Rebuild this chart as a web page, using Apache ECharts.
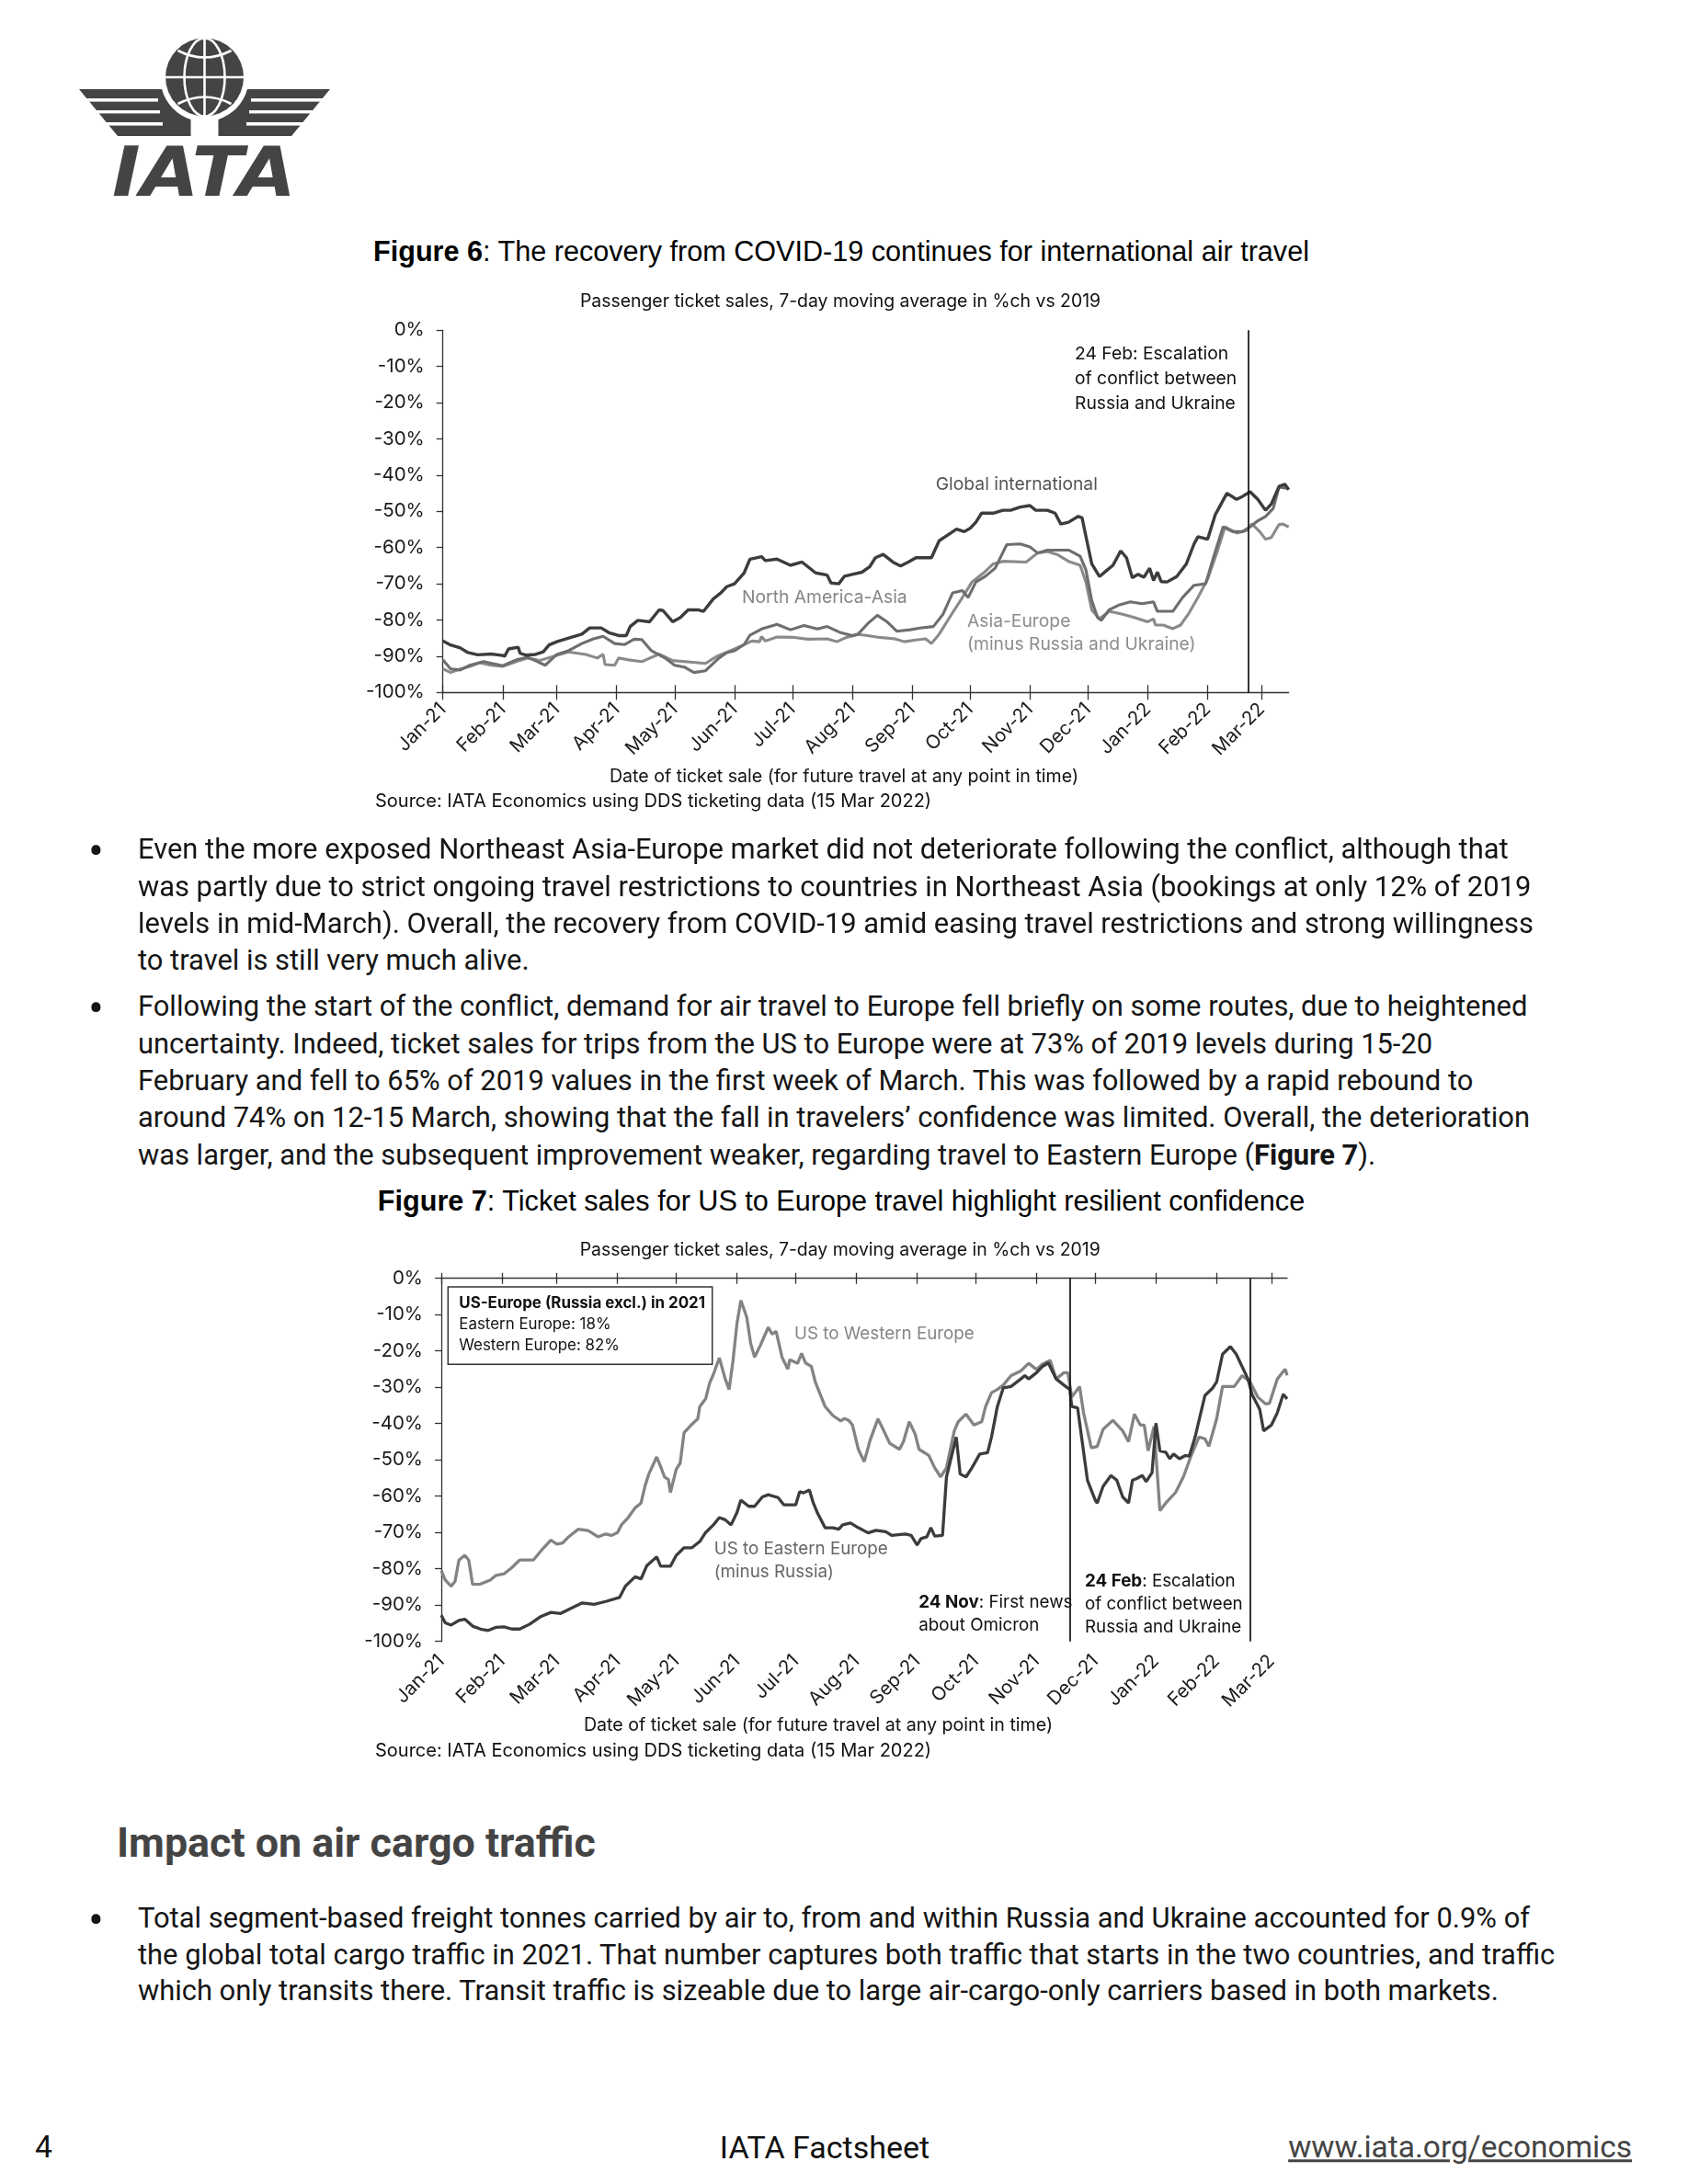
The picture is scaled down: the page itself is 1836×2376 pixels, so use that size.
<!DOCTYPE html>
<html>
<head>
<meta charset="utf-8">
<script src="https://cdn.jsdelivr.net/npm/echarts@6/dist/echarts.min.js"></script>
<style>
  html,body{margin:0;padding:0;background:#fff;}
  body{width:1836px;height:2376px;position:relative;overflow:hidden;color:#111;font-family:Roboto,"Noto Sans",sans-serif;}
  .t{position:absolute;white-space:nowrap;transform:translateY(-50%);line-height:1;}
  .body{font-size:30.9px;left:150px;color:#151515;}
  .bul{font-size:50px;left:96px;color:#151515;}
  .title{font-family:"Liberation Sans",Arial,sans-serif;font-size:30.6px;left:0;width:1830px;text-align:center;color:#000;}
  .chart{position:absolute;left:0;width:1836px;}
</style>
</head>
<body>

<svg style="position:absolute;left:0;top:0" width="400" height="230" viewBox="0 0 400 230">
  <g fill="#444">
    <path d="M86,97 L176,97 A48.3,48.3 0 0 0 207.5,130 L207.5,148 L128,148 Z"/>
    <path transform="translate(445,0) scale(-1,1)" d="M86,97 L176,97 A48.3,48.3 0 0 0 207.5,130 L207.5,148 L128,148 Z"/>
  </g>
  <g fill="#fff">
    <rect x="80" y="107" width="92" height="3.6"/>
    <rect x="80" y="120" width="94" height="3.4"/>
    <rect x="80" y="133" width="97" height="3.6"/>
    <rect x="273" y="107" width="92" height="3.6"/>
    <rect x="271" y="120" width="94" height="3.4"/>
    <rect x="268" y="133" width="97" height="3.6"/>
  </g>
  <circle cx="222.5" cy="84" r="42.5" fill="#444"/>
  <g stroke="#fff" stroke-width="2.6" fill="none">
    <line x1="222.5" y1="41.5" x2="222.5" y2="126.5"/>
    <ellipse cx="222.5" cy="84" rx="22" ry="42.5"/>
    <line x1="180" y1="84" x2="265" y2="84"/>
    <path d="M193.5,55 Q222.5,70 251.5,55"/>
    <path d="M193.5,113 Q222.5,98 251.5,113"/>
  </g>
  <text x="122" y="212.7" font-family="DejaVu Sans" font-weight="bold" font-style="italic" font-size="74" textLength="200" lengthAdjust="spacingAndGlyphs" fill="#444">IATA</text>
</svg>

<div class="t title" style="top:273px"><b>Figure 6</b>: The recovery from COVID-19 continues for international air travel</div>
<div id="c1" class="chart" style="top:290px;height:620px"></div>

<div class="t bul" style="top:926px">•</div>
<div class="t body" style="top:924px">Even the more exposed Northeast Asia-Europe market did not deteriorate following the conflict, although that</div>
<div class="t body" style="top:965px">was partly due to strict ongoing travel restrictions to countries in Northeast Asia (bookings at only 12% of 2019</div>
<div class="t body" style="top:1005px">levels in mid-March). Overall, the recovery from COVID-19 amid easing travel restrictions and strong willingness</div>
<div class="t body" style="top:1045px">to travel is still very much alive.</div>

<div class="t bul" style="top:1097px">•</div>
<div class="t body" style="top:1095px">Following the start of the conflict, demand for air travel to Europe fell briefly on some routes, due to heightened</div>
<div class="t body" style="top:1136px">uncertainty. Indeed, ticket sales for trips from the US to Europe were at 73% of 2019 levels during 15-20</div>
<div class="t body" style="top:1176px">February and fell to 65% of 2019 values in the first week of March. This was followed by a rapid rebound to</div>
<div class="t body" style="top:1216px">around 74% on 12-15 March, showing that the fall in travelers’ confidence was limited. Overall, the deterioration</div>
<div class="t body" style="top:1257px">was larger, and the subsequent improvement weaker, regarding travel to Eastern Europe (<b>Figure 7</b>).</div>

<div class="t title" style="top:1306px"><b>Figure 7</b>: Ticket sales for US to Europe travel highlight resilient confidence</div>
<div id="c2" class="chart" style="top:1320px;height:610px"></div>

<div class="t" style="top:2005px;left:127px;font-size:44.8px;font-weight:bold;color:#444;">Impact on air cargo traffic</div>

<div class="t bul" style="top:2089px">•</div>
<div class="t body" style="top:2087px">Total segment-based freight tonnes carried by air to, from and within Russia and Ukraine accounted for 0.9% of</div>
<div class="t body" style="top:2127px">the global total cargo traffic in 2021. That number captures both traffic that starts in the two countries, and traffic</div>
<div class="t body" style="top:2166px">which only transits there. Transit traffic is sizeable due to large air-cargo-only carriers based in both markets.</div>

<div class="t" style="top:2336px;left:38px;font-size:33.5px;">4</div>
<div class="t" style="top:2336px;left:0;width:1794px;text-align:center;font-size:34px;">IATA Factsheet</div>
<div class="t" style="top:2336px;right:61px;font-size:33.5px;color:#444;text-decoration:underline;">www.iata.org/economics</div>

<script>
// ---------- shared axis data ----------
const monthTicks = ['2021-01-01','2021-02-01','2021-03-01','2021-04-01','2021-05-01','2021-06-01','2021-07-01','2021-08-01','2021-09-01','2021-10-01','2021-11-01','2021-12-01','2022-01-01','2022-02-01','2022-03-01'];
const monthLabels = ['Jan-21','Feb-21','Mar-21','Apr-21','May-21','Jun-21','Jul-21','Aug-21','Sep-21','Oct-21','Nov-21','Dec-21','Jan-22','Feb-22','Mar-22'];

// ---------- Figure 6 data (% change vs 2019) ----------
const fig6Range = ['2021-01-01','2022-03-15'];
const fig6EventLine = '2022-02-22';
const globalIntl = [['2021-01-01',-85.8],['2021-01-05',-86.9],['2021-01-10',-87.7],['2021-01-14',-89.0],['2021-01-19',-89.6],['2021-01-26',-89.4],['2021-02-01',-89.8],['2021-02-02',-90.0],['2021-02-04',-88.0],['2021-02-09',-87.5],['2021-02-10',-89.2],['2021-02-13',-89.7],['2021-02-18',-89.5],['2021-02-22',-88.8],['2021-02-25',-86.9],['2021-03-01',-86.0],['2021-03-06',-85.2],['2021-03-14',-83.9],['2021-03-18',-82.2],['2021-03-24',-82.2],['2021-03-28',-83.5],['2021-04-02',-84.3],['2021-04-06',-84.3],['2021-04-08',-81.8],['2021-04-12',-80.1],['2021-04-18',-80.5],['2021-04-23',-77.2],['2021-04-25',-77.4],['2021-04-30',-80.5],['2021-05-04',-79.3],['2021-05-08',-77.2],['2021-05-13',-77.2],['2021-05-16',-77.6],['2021-05-21',-74.2],['2021-05-25',-72.5],['2021-05-28',-70.8],['2021-06-01',-70.0],['2021-06-06',-67.0],['2021-06-09',-63.2],['2021-06-15',-62.5],['2021-06-17',-63.6],['2021-06-23',-63.2],['2021-06-30',-64.9],['2021-07-06',-64.0],['2021-07-13',-67.0],['2021-07-19',-67.6],['2021-07-21',-69.8],['2021-07-25',-70.0],['2021-07-28',-67.9],['2021-08-01',-67.4],['2021-08-06',-66.8],['2021-08-10',-65.3],['2021-08-13',-62.8],['2021-08-17',-61.9],['2021-08-22',-64.0],['2021-08-26',-65.1],['2021-08-30',-64.0],['2021-09-03',-62.8],['2021-09-11',-62.8],['2021-09-15',-58.1],['2021-09-21',-56.0],['2021-09-24',-54.9],['2021-09-28',-55.6],['2021-10-01',-54.7],['2021-10-04',-53.0],['2021-10-07',-50.5],['2021-10-13',-50.5],['2021-10-18',-49.7],['2021-10-22',-49.7],['2021-10-27',-48.8],['2021-11-01',-48.4],['2021-11-04',-49.7],['2021-11-10',-49.7],['2021-11-14',-50.5],['2021-11-17',-53.5],['2021-11-21',-53.0],['2021-11-26',-51.4],['2021-11-28',-51.8],['2021-11-30',-56.9],['2021-12-03',-64.5],['2021-12-07',-68.0],['2021-12-11',-66.2],['2021-12-14',-64.9],['2021-12-18',-60.9],['2021-12-21',-62.8],['2021-12-24',-68.3],['2021-12-27',-67.4],['2021-12-30',-68.2],['2022-01-02',-65.7],['2022-01-04',-69.1],['2022-01-06',-66.8],['2022-01-08',-69.4],['2022-01-11',-69.5],['2022-01-16',-68.0],['2022-01-21',-64.5],['2022-01-25',-59.0],['2022-01-27',-57.0],['2022-02-01',-57.7],['2022-02-05',-50.9],['2022-02-11',-45.0],['2022-02-16',-46.7],['2022-02-19',-45.9],['2022-02-23',-44.6],['2022-02-27',-46.7],['2022-03-03',-49.7],['2022-03-06',-48.0],['2022-03-10',-43.1],['2022-03-13',-42.5],['2022-03-15',-44.0]];
const northAmericaAsia = [['2021-01-01',-91.0],['2021-01-05',-93.5],['2021-01-10',-93.8],['2021-01-15',-92.5],['2021-01-22',-91.5],['2021-02-01',-92.6],['2021-02-08',-91.0],['2021-02-14',-90.3],['2021-02-19',-91.5],['2021-02-23',-92.5],['2021-03-01',-89.5],['2021-03-07',-88.5],['2021-03-14',-86.5],['2021-03-20',-85.2],['2021-03-25',-84.5],['2021-03-31',-86.5],['2021-04-05',-86.8],['2021-04-10',-85.3],['2021-04-14',-85.4],['2021-04-19',-88.5],['2021-04-26',-90.5],['2021-05-01',-92.5],['2021-05-06',-93.0],['2021-05-11',-94.5],['2021-05-17',-94.0],['2021-05-24',-90.5],['2021-05-28',-89.0],['2021-06-01',-88.5],['2021-06-06',-86.8],['2021-06-09',-84.2],['2021-06-15',-82.5],['2021-06-23',-81.2],['2021-06-30',-82.7],['2021-07-07',-81.5],['2021-07-14',-82.5],['2021-07-19',-81.8],['2021-07-26',-83.5],['2021-08-01',-84.3],['2021-08-04',-83.9],['2021-08-09',-81.0],['2021-08-14',-78.7],['2021-08-19',-80.5],['2021-08-24',-83.1],['2021-08-31',-82.7],['2021-09-05',-82.2],['2021-09-12',-81.8],['2021-09-17',-78.4],['2021-09-22',-72.5],['2021-09-27',-71.9],['2021-09-30',-73.8],['2021-10-04',-69.5],['2021-10-09',-67.9],['2021-10-14',-65.7],['2021-10-20',-59.2],['2021-10-27',-59.0],['2021-11-01',-59.8],['2021-11-05',-61.5],['2021-11-10',-60.7],['2021-11-21',-60.7],['2021-11-27',-62.4],['2021-11-30',-66.2],['2021-12-03',-74.6],['2021-12-06',-79.3],['2021-12-08',-80.1],['2021-12-12',-77.2],['2021-12-17',-75.9],['2021-12-23',-75.0],['2021-12-29',-75.5],['2022-01-04',-75.0],['2022-01-06',-77.6],['2022-01-10',-77.6],['2022-01-14',-77.6],['2022-01-19',-73.8],['2022-01-25',-70.4],['2022-01-31',-70.0],['2022-02-04',-62.8],['2022-02-09',-54.3],['2022-02-14',-55.6],['2022-02-19',-55.6],['2022-02-23',-54.3],['2022-02-27',-52.6],['2022-03-03',-51.4],['2022-03-07',-49.2],['2022-03-10',-43.3],['2022-03-15',-43.7]];
const asiaEurope = [['2021-01-01',-93.5],['2021-01-05',-94.5],['2021-01-10',-93.5],['2021-01-15',-92.8],['2021-01-20',-91.8],['2021-01-26',-92.5],['2021-02-01',-92.8],['2021-02-08',-91.5],['2021-02-14',-90.5],['2021-02-20',-91.2],['2021-03-01',-89.8],['2021-03-07',-88.8],['2021-03-16',-89.5],['2021-03-22',-90.5],['2021-03-25',-89.5],['2021-03-26',-92.3],['2021-03-31',-92.5],['2021-04-02',-90.5],['2021-04-07',-91.0],['2021-04-14',-91.5],['2021-04-23',-89.4],['2021-04-30',-91.2],['2021-05-09',-91.6],['2021-05-17',-92.0],['2021-05-23',-90.0],['2021-05-29',-88.7],['2021-06-06',-86.8],['2021-06-10',-85.8],['2021-06-14',-86.0],['2021-06-15',-84.6],['2021-06-17',-85.8],['2021-06-23',-84.7],['2021-07-02',-84.8],['2021-07-09',-85.3],['2021-07-19',-85.2],['2021-07-24',-86.0],['2021-07-29',-84.8],['2021-08-04',-84.0],['2021-08-09',-84.3],['2021-08-15',-84.8],['2021-08-23',-85.2],['2021-08-28',-86.0],['2021-09-02',-85.6],['2021-09-08',-85.2],['2021-09-11',-86.5],['2021-09-15',-83.9],['2021-09-21',-78.8],['2021-09-27',-73.8],['2021-10-02',-69.5],['2021-10-08',-67.0],['2021-10-13',-64.5],['2021-10-18',-63.8],['2021-10-30',-64.0],['2021-11-05',-61.5],['2021-11-10',-61.1],['2021-11-15',-61.9],['2021-11-21',-63.8],['2021-11-27',-64.9],['2021-11-30',-69.5],['2021-12-03',-77.2],['2021-12-07',-79.7],['2021-12-12',-77.6],['2021-12-19',-78.4],['2021-12-25',-79.3],['2022-01-01',-80.5],['2022-01-04',-79.7],['2022-01-05',-81.4],['2022-01-09',-81.4],['2022-01-14',-82.4],['2022-01-18',-81.4],['2022-01-22',-78.4],['2022-01-27',-73.8],['2022-02-01',-68.7],['2022-02-06',-61.1],['2022-02-10',-54.3],['2022-02-16',-56.0],['2022-02-21',-55.3],['2022-02-24',-53.5],['2022-02-28',-55.6],['2022-03-03',-57.7],['2022-03-06',-57.2],['2022-03-10',-53.6],['2022-03-12',-53.5],['2022-03-15',-54.3]];

// ---------- Figure 7 data (% change vs 2019) ----------
const fig7Range = ['2021-01-01','2022-03-09'];
const fig7EventLines = ['2021-11-18','2022-02-18'];
const usWesternEurope = [['2021-01-01',-80.5],['2021-01-03',-83.1],['2021-01-06',-84.8],['2021-01-08',-83.5],['2021-01-10',-77.6],['2021-01-13',-76.3],['2021-01-15',-77.6],['2021-01-17',-84.3],['2021-01-21',-84.2],['2021-01-26',-83.1],['2021-01-29',-81.8],['2021-02-02',-81.4],['2021-02-06',-79.7],['2021-02-10',-77.6],['2021-02-17',-77.6],['2021-02-21',-75.0],['2021-02-26',-72.1],['2021-03-01',-73.2],['2021-03-04',-72.9],['2021-03-07',-71.2],['2021-03-12',-69.1],['2021-03-17',-69.5],['2021-03-22',-71.2],['2021-03-26',-70.4],['2021-03-29',-70.8],['2021-04-01',-70.0],['2021-04-03',-67.9],['2021-04-06',-66.2],['2021-04-10',-63.2],['2021-04-13',-61.9],['2021-04-15',-57.3],['2021-04-17',-53.9],['2021-04-21',-49.2],['2021-04-23',-51.8],['2021-04-25',-54.7],['2021-04-27',-55.4],['2021-04-28',-59.0],['2021-05-01',-52.6],['2021-05-03',-50.9],['2021-05-05',-42.5],['2021-05-09',-40.2],['2021-05-12',-38.7],['2021-05-13',-35.3],['2021-05-16',-33.2],['2021-05-18',-28.9],['2021-05-20',-26.4],['2021-05-23',-21.9],['2021-05-26',-27.7],['2021-05-28',-30.6],['2021-05-30',-22.6],['2021-06-01',-12.4],['2021-06-03',-6.1],['2021-06-06',-10.7],['2021-06-08',-17.9],['2021-06-10',-21.7],['2021-06-13',-18.4],['2021-06-17',-13.5],['2021-06-19',-15.4],['2021-06-21',-14.6],['2021-06-24',-21.7],['2021-06-27',-25.0],['2021-06-28',-22.4],['2021-07-02',-23.4],['2021-07-04',-20.7],['2021-07-06',-23.3],['2021-07-09',-24.3],['2021-07-11',-28.5],['2021-07-16',-35.3],['2021-07-20',-37.8],['2021-07-24',-39.3],['2021-07-26',-38.6],['2021-07-28',-39.1],['2021-07-30',-40.4],['2021-08-02',-47.1],['2021-08-05',-50.5],['2021-08-08',-44.6],['2021-08-12',-38.7],['2021-08-15',-42.0],['2021-08-18',-45.4],['2021-08-23',-47.1],['2021-08-25',-45.0],['2021-08-28',-39.5],['2021-08-31',-42.9],['2021-09-02',-47.1],['2021-09-07',-48.8],['2021-09-10',-52.2],['2021-09-13',-54.7],['2021-09-16',-52.2],['2021-09-20',-42.0],['2021-09-22',-39.5],['2021-09-26',-37.4],['2021-09-30',-40.4],['2021-10-04',-39.5],['2021-10-06',-35.3],['2021-10-09',-31.5],['2021-10-12',-30.6],['2021-10-15',-29.4],['2021-10-19',-26.8],['2021-10-24',-25.5],['2021-10-28',-23.4],['2021-11-01',-25.1],['2021-11-04',-23.6],['2021-11-08',-22.6],['2021-11-11',-27.7],['2021-11-15',-26.0],['2021-11-17',-26.0],['2021-11-19',-32.7],['2021-11-23',-29.8],['2021-11-25',-37.0],['2021-11-29',-46.7],['2021-12-02',-46.3],['2021-12-05',-41.6],['2021-12-10',-39.1],['2021-12-15',-42.0],['2021-12-18',-45.0],['2021-12-21',-37.4],['2021-12-24',-40.4],['2021-12-26',-40.4],['2021-12-28',-47.5],['2021-12-31',-40.8],['2022-01-03',-64.0],['2022-01-06',-61.9],['2022-01-11',-59.0],['2022-01-15',-54.7],['2022-01-19',-48.8],['2022-01-23',-43.7],['2022-01-26',-44.2],['2022-01-28',-46.3],['2022-02-01',-38.7],['2022-02-04',-29.8],['2022-02-10',-29.8],['2022-02-14',-26.8],['2022-02-18',-28.5],['2022-02-22',-32.7],['2022-02-26',-34.6],['2022-02-28',-34.4],['2022-03-04',-27.7],['2022-03-08',-25.0],['2022-03-09',-26.7]];
const usEasternEurope = [['2021-01-01',-92.8],['2021-01-03',-94.9],['2021-01-06',-95.5],['2021-01-10',-94.2],['2021-01-13',-93.9],['2021-01-17',-95.8],['2021-01-21',-96.6],['2021-01-25',-97.0],['2021-01-29',-96.1],['2021-02-02',-96.0],['2021-02-06',-96.6],['2021-02-10',-96.6],['2021-02-15',-95.3],['2021-02-21',-93.1],['2021-02-26',-92.0],['2021-03-03',-92.3],['2021-03-07',-91.2],['2021-03-14',-89.4],['2021-03-20',-89.8],['2021-03-26',-89.0],['2021-04-02',-87.9],['2021-04-05',-84.8],['2021-04-10',-82.2],['2021-04-13',-82.8],['2021-04-16',-79.1],['2021-04-21',-76.7],['2021-04-23',-79.3],['2021-04-28',-79.3],['2021-05-01',-76.3],['2021-05-05',-74.2],['2021-05-09',-74.2],['2021-05-13',-72.5],['2021-05-16',-70.0],['2021-05-20',-67.9],['2021-05-23',-65.9],['2021-05-26',-66.5],['2021-05-29',-67.9],['2021-06-01',-64.5],['2021-06-03',-61.1],['2021-06-07',-62.8],['2021-06-10',-62.8],['2021-06-14',-60.2],['2021-06-17',-59.6],['2021-06-22',-60.4],['2021-06-25',-62.4],['2021-07-01',-62.4],['2021-07-03',-58.8],['2021-07-05',-59.1],['2021-07-08',-58.3],['2021-07-10',-61.9],['2021-07-12',-64.5],['2021-07-16',-68.7],['2021-07-20',-68.7],['2021-07-23',-69.1],['2021-07-25',-67.9],['2021-07-29',-67.4],['2021-08-02',-68.7],['2021-08-07',-70.1],['2021-08-11',-69.4],['2021-08-16',-69.8],['2021-08-19',-70.8],['2021-08-26',-70.4],['2021-08-29',-70.8],['2021-09-01',-73.5],['2021-09-03',-71.7],['2021-09-06',-71.2],['2021-09-08',-68.7],['2021-09-10',-71.0],['2021-09-14',-70.8],['2021-09-16',-54.7],['2021-09-21',-43.7],['2021-09-23',-53.9],['2021-09-26',-54.7],['2021-09-29',-52.2],['2021-10-03',-48.4],['2021-10-07',-48.0],['2021-10-09',-43.7],['2021-10-12',-35.3],['2021-10-15',-30.2],['2021-10-19',-29.8],['2021-10-24',-27.7],['2021-10-26',-26.8],['2021-10-28',-27.7],['2021-11-01',-26.0],['2021-11-04',-24.3],['2021-11-07',-23.3],['2021-11-11',-27.7],['2021-11-15',-29.4],['2021-11-18',-30.6],['2021-11-19',-35.3],['2021-11-22',-35.7],['2021-11-24',-43.7],['2021-11-27',-55.6],['2021-12-01',-61.1],['2021-12-02',-61.9],['2021-12-05',-57.3],['2021-12-09',-54.3],['2021-12-12',-55.6],['2021-12-15',-60.2],['2021-12-18',-61.9],['2021-12-20',-55.6],['2021-12-22',-55.2],['2021-12-25',-54.3],['2021-12-27',-56.0],['2021-12-30',-53.5],['2022-01-01',-39.9],['2022-01-03',-47.5],['2022-01-06',-47.9],['2022-01-08',-49.7],['2022-01-10',-48.4],['2022-01-13',-49.7],['2022-01-16',-48.8],['2022-01-18',-49.0],['2022-01-21',-43.7],['2022-01-23',-39.1],['2022-01-26',-32.3],['2022-01-30',-30.2],['2022-02-01',-28.5],['2022-02-04',-20.9],['2022-02-08',-18.8],['2022-02-11',-20.9],['2022-02-14',-24.3],['2022-02-17',-27.7],['2022-02-19',-31.9],['2022-02-23',-36.1],['2022-02-25',-42.0],['2022-02-28',-40.8],['2022-03-01',-40.4],['2022-03-04',-37.0],['2022-03-07',-31.9],['2022-03-09',-33.2]];

// ---------- helpers ----------
function toTs(s){ const p = s.split('-').map(Number); return Date.UTC(p[0], p[1]-1, p[2]); }
const tickTs = monthTicks.map(toTs);
function monthFmt(v){
  let best = -1, bd = Infinity;
  tickTs.forEach((t,i)=>{ const d = Math.abs(t - v); if (d < bd) { bd = d; best = i; } });
  return bd < 86400000 ? monthLabels[best] : '';
}
const pts = arr => arr.map(d => [toTs(d[0]), d[1]]);
const AX = '#333';
const TXTFONT = 'Inter, Roboto, "Noto Sans", sans-serif';
const TICKFONT = TXTFONT;

function yAxisOpt(){
  return {
    type:'value', min:-100, max:0, interval:10,
    axisLine:{show:true,onZero:false,lineStyle:{color:AX,width:1.3}},
    axisTick:{show:true,length:7,lineStyle:{color:AX,width:1.3}},
    axisLabel:{formatter:'{value}%',fontSize:20.5,fontFamily:TICKFONT,color:'#1a1a1a',margin:20},
    splitLine:{show:false}
  };
}
function xAxisOpt(min, max, pos, o){
  return Object.assign({type:'value', min:min, max:max, position:pos, splitLine:{show:false}, scale:false}, o);
}
function txt(x,y,text,opt){
  opt = opt || {};
  return {type:'text', x:x, y:y, silent:true, style:Object.assign({
    text:text, fill:'#111', fontSize:19, fontFamily:TXTFONT,
    textAlign:'left', textVerticalAlign:'middle'
  }, opt)};
}
function lineSeries(name, data, color, width, z){
  return {name:name, type:'line', data:pts(data), showSymbol:false, symbol:'none',
    lineStyle:{color:color,width:width}, itemStyle:{color:color}, z:z, silent:true, animation:false};
}
function vLines(dates){
  return {symbol:['none','none'], silent:true, animation:false, label:{show:false},
    lineStyle:{color:'#111',width:1.7,type:'solid'},
    data:dates.map(d=>({xAxis:toTs(d)}))};
}
const boldRich = size => ({b:{fontWeight:'bold',fontSize:size,fontFamily:TXTFONT,fill:'#111'}});

// ---------- Figure 6 ----------
const c1 = echarts.init(document.getElementById('c1'), null, {renderer:'canvas'});
const min1 = toTs(fig6Range[0]), max1 = toTs(fig6Range[1]);
const s1 = [
  lineSeries('Asia-Europe (minus Russia and Ukraine)', asiaEurope, '#8a8a8a', 3.1, 2),
  lineSeries('North America-Asia', northAmericaAsia, '#6e6e6e', 3.1, 3),
  lineSeries('Global international', globalIntl, '#3c3c3c', 3.4, 4)
];
s1[2].markLine = vLines([fig6EventLine]);
c1.setOption({
  animation:false,
  grid:{left:481.7, top:69.3, width:920, height:394, containLabel:false, outerBoundsMode:'none'},
  xAxis:[
    xAxisOpt(min1, max1, 'bottom', {
     axisLine:{show:true,onZero:false,lineStyle:{color:AX,width:1.3}},
     axisTick:{show:true,customValues:tickTs,length:8,lineStyle:{color:AX,width:1.3}},
     axisLabel:{show:true,customValues:tickTs,formatter:monthFmt,rotate:45,margin:15,fontSize:20.5,fontFamily:TICKFONT,color:'#1a1a1a'}}),
    xAxisOpt(min1, max1, 'bottom', {
     axisLine:{show:false,onZero:false},
     axisTick:{show:true,inside:true,customValues:tickTs,length:8,lineStyle:{color:AX,width:1.3}},
     axisLabel:{show:false}})
  ],
  yAxis:yAxisOpt(),
  series:s1,
  graphic:[
    txt(914, 38, 'Passenger ticket sales, 7-day moving average in %ch vs 2019', {textAlign:'center', fontSize:19.4}),
    txt(1169, 95.7, '24 Feb: Escalation', {fontSize:19.3}),
    txt(1169, 122.4, 'of conflict between', {fontSize:19.3}),
    txt(1169, 149, 'Russia and Ukraine', {fontSize:19.3}),
    txt(1017.7, 237.3, 'Global international', {fontSize:19.3, fill:'#555'}),
    txt(807, 360, 'North America-Asia', {fontSize:19.3, fill:'#858585'}),
    txt(1052, 386, 'Asia-Europe', {fontSize:19.3, fill:'#8c8c8c'}),
    txt(1052, 411.7, '(minus Russia and Ukraine)', {fontSize:19.3, fill:'#8c8c8c'}),
    txt(918, 555, 'Date of ticket sale (for future travel at any point in time)', {textAlign:'center', fontSize:19.6}),
    txt(408, 582, 'Source: IATA Economics using DDS ticketing data (15 Mar 2022)', {fontSize:20})
  ]
});

// ---------- Figure 7 ----------
const c2 = echarts.init(document.getElementById('c2'), null, {renderer:'canvas'});
const min2 = toTs(fig7Range[0]), max2 = toTs(fig7Range[1]);
const s2 = [
  lineSeries('US to Western Europe', usWesternEurope, '#838383', 3.3, 2),
  lineSeries('US to Eastern Europe (minus Russia)', usEasternEurope, '#3c3c3c', 3.3, 3)
];
s2[1].markLine = vLines(fig7EventLines);
c2.setOption({
  animation:false,
  grid:{left:480, top:70.7, width:920, height:395, containLabel:false, outerBoundsMode:'none'},
  xAxis:[
    xAxisOpt(min2, max2, 'bottom', {
     axisLine:{show:false,onZero:false}, axisTick:{show:false},
     axisLabel:{show:true,customValues:tickTs,formatter:monthFmt,rotate:45,margin:18,fontSize:20.5,fontFamily:TICKFONT,color:'#1a1a1a'}}),
    xAxisOpt(min2, max2, 'top', {
     axisLine:{show:true,onZero:false,lineStyle:{color:AX,width:1.3}},
     axisTick:{show:true,customValues:tickTs,length:6,lineStyle:{color:AX,width:1.3}},
     axisLabel:{show:false}}),
    xAxisOpt(min2, max2, 'top', {
     axisLine:{show:false,onZero:false},
     axisTick:{show:true,inside:true,customValues:tickTs,length:6,lineStyle:{color:AX,width:1.3}},
     axisLabel:{show:false}})
  ],
  yAxis:yAxisOpt(),
  series:s2,
  graphic:[
    txt(913.7, 40, 'Passenger ticket sales, 7-day moving average in %ch vs 2019', {textAlign:'center', fontSize:19.4}),
    {type:'rect', shape:{x:487.3, y:80, width:287.4, height:84.3}, silent:true,
     style:{fill:'#fff', stroke:'#333', lineWidth:1.5}},
    txt(499.3, 97.7, 'US-Europe (Russia excl.) in 2021', {fontSize:16.9, fontWeight:'bold'}),
    txt(499.3, 121, 'Eastern Europe: 18%', {fontSize:16.9}),
    txt(499.3, 144, 'Western Europe: 82%', {fontSize:16.9}),
    txt(864, 131.7, 'US to Western Europe', {fontSize:18.8, fill:'#858585'}),
    txt(776.7, 365, 'US to Eastern Europe', {fontSize:18.8, fill:'#666'}),
    txt(776.7, 390, '(minus Russia)', {fontSize:18.8, fill:'#666'}),
    txt(999.3, 423.3, '{b|24 Nov}: First news', {fontSize:18.8, rich:boldRich(18.8)}),
    txt(999.3, 448.3, 'about Omicron', {fontSize:18.8}),
    txt(1180, 400, '{b|24 Feb}: Escalation', {fontSize:18.8, rich:boldRich(18.8)}),
    txt(1180, 425, 'of conflict between', {fontSize:18.8}),
    txt(1180, 450, 'Russia and Ukraine', {fontSize:18.8}),
    txt(890, 557, 'Date of ticket sale (for future travel at any point in time)', {textAlign:'center', fontSize:19.6}),
    txt(408, 585, 'Source: IATA Economics using DDS ticketing data (15 Mar 2022)', {fontSize:20})
  ]
});
</script>
</body>
</html>
